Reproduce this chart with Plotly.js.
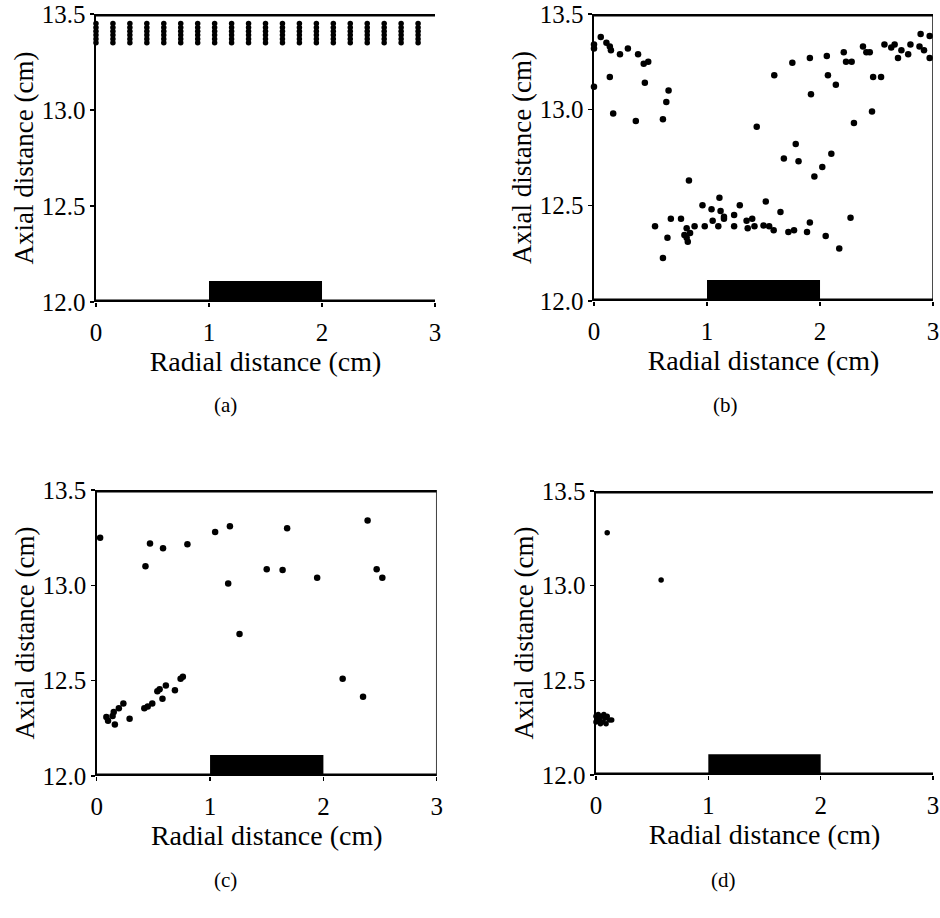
<!DOCTYPE html>
<html>
<head>
<meta charset="utf-8">
<script src="https://cdn.plot.ly/plotly-3.0.1.min.js"></script>
<style>html,body{margin:0;padding:0;background:#fff;}#chart{width:940px;height:918px;}</style>
</head>
<body>
<div id="chart"></div>
<script>
// ---- Data ----
// Panel (a): regular grid of droplets near the top wall
const aColumnsX = [0.00, 0.15, 0.30, 0.45, 0.60, 0.75, 0.90, 1.05, 1.20, 1.35,
                   1.50, 1.65, 1.80, 1.95, 2.10, 2.25, 2.40, 2.55, 2.70, 2.85];
const aRowsY = [13.35, 13.37, 13.39, 13.41, 13.43, 13.45];

// Panel (b)
const bX = [0.00, 0.00, 0.06, 0.11, 0.14, 0.15, 0.23, 0.30, 0.39, 0.44, 0.48, 0.14, 0.00, 0.45, 0.66, 0.64,
            0.17, 0.37, 0.61, 1.44, 0.84, 1.11, 0.96, 1.29, 1.04, 1.12, 1.24, 1.15, 1.05, 1.15, 0.68, 0.77,
            1.40, 1.35, 0.54, 0.89, 0.98, 1.10, 1.24, 1.36, 1.42, 0.82, 0.85, 0.80, 0.82, 0.83, 0.65, 0.61,
            2.89, 2.97, 2.88, 2.92, 2.97, 2.80, 2.78, 2.72, 2.69, 2.66, 2.63, 2.57, 2.38, 2.41, 2.44, 2.21,
            2.23, 2.28, 2.06, 1.91, 1.755, 1.595, 2.07, 2.47, 2.54, 2.14, 1.92, 2.46, 2.30, 1.785, 1.68, 1.81,
            2.10, 2.02, 1.95, 1.52, 1.65, 1.50, 1.55, 1.59, 1.72, 1.77, 1.885, 1.91, 2.05, 2.27, 2.17];
const bY = [13.34, 13.32, 13.38, 13.35, 13.33, 13.31, 13.29, 13.32, 13.29, 13.24, 13.25, 13.17, 13.12, 13.14, 13.10, 13.04,
            12.98, 12.94, 12.95, 12.91, 12.63, 12.54, 12.50, 12.50, 12.48, 12.47, 12.45, 12.44, 12.42, 12.43, 12.43, 12.43,
            12.43, 12.42, 12.39, 12.39, 12.39, 12.39, 12.39, 12.38, 12.39, 12.38, 12.355, 12.345, 12.33, 12.31, 12.33, 12.225,
            13.395, 13.385, 13.33, 13.31, 13.27, 13.34, 13.29, 13.31, 13.27, 13.34, 13.325, 13.34, 13.33, 13.30, 13.30, 13.30,
            13.25, 13.25, 13.28, 13.27, 13.245, 13.18, 13.18, 13.17, 13.17, 13.13, 13.08, 12.99, 12.93, 12.82, 12.745, 12.73,
            12.77, 12.70, 12.65, 12.52, 12.465, 12.395, 12.39, 12.37, 12.36, 12.37, 12.36, 12.41, 12.34, 12.435, 12.275];

// Panel (c)
const cX = [0.03, 0.47, 0.585, 0.43, 0.80, 1.045, 1.175, 1.16, 1.50, 1.64, 1.68, 1.945, 2.39, 2.47, 2.52,
            1.26, 2.17, 2.35, 0.76, 0.74, 0.61, 0.555, 0.535, 0.69, 0.58, 0.49, 0.45, 0.42, 0.235, 0.195,
            0.15, 0.085, 0.29, 0.10, 0.14, 0.16];
const cY = [13.25, 13.22, 13.195, 13.10, 13.215, 13.28, 13.31, 13.01, 13.085, 13.08, 13.30, 13.04, 13.34, 13.085, 13.04,
            12.745, 12.51, 12.415, 12.52, 12.51, 12.475, 12.455, 12.445, 12.45, 12.405, 12.38, 12.365, 12.355, 12.38, 12.355,
            12.335, 12.31, 12.30, 12.29, 12.315, 12.27];

// Panel (d)
const dX = [0.10, 0.58, 0.00, 0.00, 0.02, 0.03, 0.04, 0.05, 0.06, 0.07, 0.08, 0.09, 0.10, 0.12, 0.14, 0.01];
const dY = [13.28, 13.03, 12.31, 12.28, 12.32, 12.29, 12.27, 12.31, 12.28, 12.32, 12.30, 12.27, 12.31, 12.29, 12.29, 12.30];

// Axis ticks and labels
const xTickVals = [0, 1, 2, 3];
const xTickText = ['0', '1', '2', '3'];
const yTickVals = [12.0, 12.5, 13.0, 13.5];
const yTickText = ['12.0', '12.5', '13.0', '13.5'];
const panelLabels = ['(a)', '(b)', '(c)', '(d)'];
const xTitle = 'Radial distance (cm)';
const yTitle = 'Axial distance (cm)';
const wallBottom = 12.0, wallTop = 13.5, radialMax = 3;
const heater = {x0: 1, x1: 2, y1: 12.11};
const hasRightEdge = [false, true, true, false];

// ---- Build panel (a) grid from the column/row arrays ----
const aX = [], aY = [];
aColumnsX.forEach(x => aRowsY.forEach(y => { aX.push(x); aY.push(y); }));

const FONT = 'Liberation Serif';
const sets = [[aX, aY, 5.5], [bX, bY, 6.5], [cX, cY, 6.5], [dX, dY, 5.5]];
const traces = sets.map((s, i) => ({
  type: 'scatter', mode: 'markers', x: s[0], y: s[1],
  xaxis: 'x' + (i ? i + 1 : ''), yaxis: 'y' + (i ? i + 1 : ''),
  marker: {color: '#000', size: s[2]}, cliponaxis: false, showlegend: false, hoverinfo: 'x+y'
}));

const xDomains = [[0.1021, 0.4628], [0.6319, 0.9926], [0.1029, 0.4646], [0.6340, 0.9926]];
const yDomains = [[0.6710, 0.9848], [0.6721, 0.9848], [0.1547, 0.4662], [0.1558, 0.4651]];
const labelX = [225, 725, 225, 723];

const layout = {
  width: 940, height: 918,
  margin: {l: 0, r: 0, t: 0, b: 0},
  paper_bgcolor: '#fff', plot_bgcolor: '#fff',
  font: {family: FONT, color: '#000'},
  showlegend: false,
  shapes: [], annotations: []
};

for (let i = 0; i < 4; i++) {
  const sfx = i ? String(i + 1) : '';
  layout['xaxis' + sfx] = {
    domain: xDomains[i], range: [0, radialMax], anchor: 'y' + sfx,
    tickvals: xTickVals, ticktext: xTickText, ticks: 'outside', ticklen: 4, tickwidth: 1.5, tickcolor: '#000',
    ticklabelstandoff: 4,
    showline: false, showgrid: false, zeroline: false, fixedrange: true,
    tickfont: {family: FONT, size: 25, color: '#000'},
    title: {text: xTitle, font: {family: FONT, size: 28, color: '#000'}, standoff: 0}
  };
  layout['yaxis' + sfx] = {
    domain: yDomains[i], range: [wallBottom, wallTop], anchor: 'x' + sfx,
    tickvals: yTickVals, ticktext: yTickText, ticks: 'outside', ticklen: 4, tickwidth: 1.5, tickcolor: '#000',
    showline: true, linewidth: 1.5, linecolor: '#000', showgrid: false, zeroline: false, fixedrange: true,
    tickfont: {family: FONT, size: 25, color: '#000'},
    title: {text: yTitle, font: {family: FONT, size: 27, color: '#000'}, standoff: 0}
  };
  const xr = 'x' + sfx, yr = 'y' + sfx;
  layout.shapes.push(
    {type: 'line', xref: xr, yref: yr, x0: 0, x1: radialMax, y0: wallTop, y1: wallTop, line: {color: '#000', width: 5}},
    {type: 'line', xref: xr, yref: yr, x0: 0, x1: radialMax, y0: wallBottom, y1: wallBottom, line: {color: '#000', width: 5}},
    {type: 'rect', xref: xr, yref: yr, x0: heater.x0, x1: heater.x1, y0: wallBottom, y1: heater.y1, fillcolor: '#000', line: {color: '#000', width: 0}}
  );
  if (hasRightEdge[i]) {
    layout.shapes.push({type: 'line', xref: xr, yref: yr, x0: radialMax, x1: radialMax, y0: wallBottom, y1: wallTop, line: {color: '#000', width: 1.5}});
  }
  layout.annotations.push({
    xref: 'paper', yref: 'paper', x: labelX[i] / 940, y: i < 2 ? 1 - 405 / 918 : 1 - 880 / 918,
    text: panelLabels[i], showarrow: false, font: {family: FONT, size: 21, color: '#000'}, xanchor: 'center', yanchor: 'middle'
  });
}

Plotly.newPlot('chart', traces, layout, {displayModeBar: false, staticPlot: true});
</script>
</body>
</html>
